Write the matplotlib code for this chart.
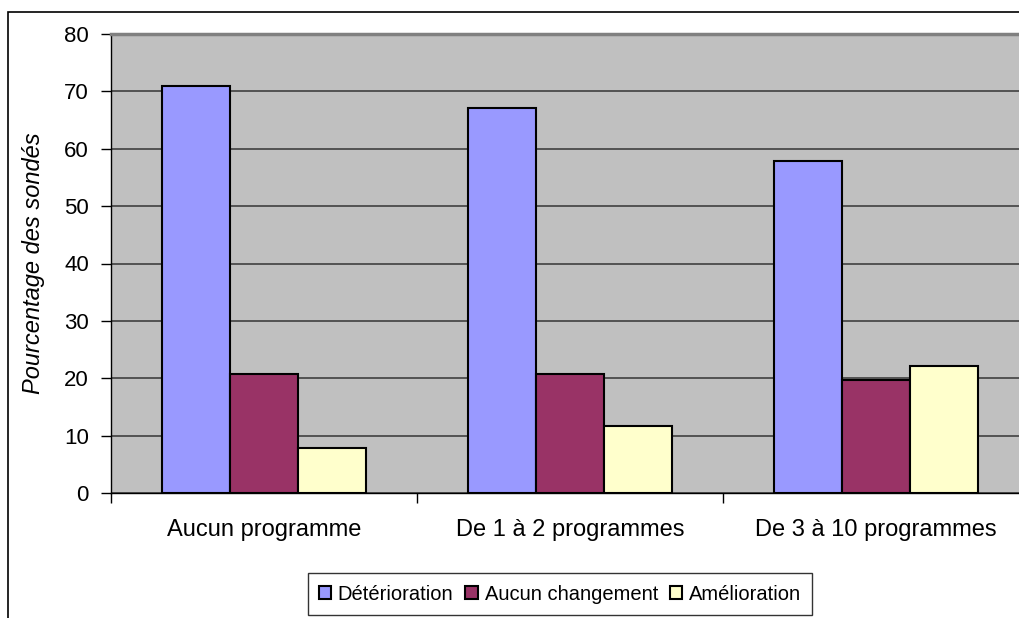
import numpy as np
import matplotlib
matplotlib.use("Agg")
import matplotlib.pyplot as plt
from matplotlib.patches import Rectangle

plt.rcParams["font.family"] = ["Liberation Sans", "DejaVu Sans"]

categories = ["Aucun programme", "De 1 à 2 programmes", "De 3 à 10 programmes"]
series_names = ["Détérioration", "Aucun changement", "Amélioration"]
deterioration = [71.0, 67.1, 57.8]
aucun_changement = [20.8, 20.8, 19.7]
amelioration = [7.8, 11.7, 22.2]
colors = ["#9999FF", "#993366", "#FFFFCC"]

fig = plt.figure(figsize=(10.2, 6.18), dpi=100)

# outer chart border (cut off on the right/bottom like the original)
fig.patches.append(Rectangle((8 / 1020, -0.1), 1.2, 1 - 12 / 618 + 0.1,
                             transform=fig.transFigure, fill=False,
                             edgecolor="black", linewidth=1.2))

ax = fig.add_axes([111 / 1020, 125 / 618, 918 / 1020, 459 / 618])
ax.set_facecolor("#C0C0C0")

x = np.arange(len(categories))
w = 0.222
for i, (vals, name) in enumerate(zip([deterioration, aucun_changement, amelioration], series_names)):
    ax.bar(x + (i - 1) * w, vals, width=w, color=colors[i], edgecolor="black",
           linewidth=1.5, label=name, zorder=3)

ax.set_xlim(-0.5, 2.5)
ax.set_ylim(0, 80)
ax.set_yticks(range(0, 81, 10))
ax.yaxis.grid(True, color="#404040", linewidth=1.2, zorder=0)
ax.set_axisbelow(True)

ax.set_xticks(x)
ax.set_xticklabels(categories, fontsize=17)
ax.set_xticks([-0.5, 0.5, 1.5, 2.5], minor=True)
ax.tick_params(axis="x", which="major", length=0, pad=19)
ax.tick_params(axis="x", which="minor", length=7, width=1, direction="out")
ax.tick_params(axis="y", labelsize=16, length=7, width=1, direction="out", pad=9)

for s in ["left", "bottom"]:
    ax.spines[s].set_color("black")
    ax.spines[s].set_linewidth(1)
ax.spines["top"].set_color("#808080")
ax.spines["top"].set_linewidth(2.5)
ax.spines["right"].set_color("#808080")

fig.text(34 / 1020, 1 - 263 / 618, "Pourcentage des sondés", rotation=90,
         ha="center", va="center", fontsize=17, style="italic")

leg = fig.legend(loc="center", bbox_to_anchor=(560 / 1020, 1 - 594 / 618), ncol=3,
                 fontsize=14.5, frameon=True, fancybox=False, edgecolor="black",
                 handlelength=0.6, handleheight=0.6, handletextpad=0.35,
                 columnspacing=0.6, borderpad=0.55)
leg.get_frame().set_linewidth(1)

fig.savefig("out.png", dpi=100)
